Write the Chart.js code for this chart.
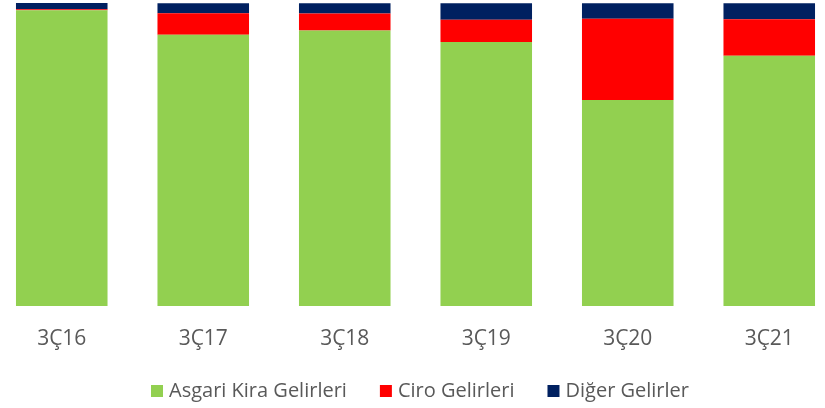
<!DOCTYPE html>
<html>
<head>
<meta charset="utf-8">
<script src="https://cdn.jsdelivr.net/npm/chart.js@4.4.0/dist/chart.umd.min.js"></script>
<style>
html,body{margin:0;padding:0;background:#fff;overflow:hidden;width:825px;height:408px;}
#wrap{position:absolute;left:-13px;top:0;width:866px;height:408px;}
</style>
</head>
<body>
<div id="wrap"><canvas id="c"></canvas></div>
<script>
const categories = ["3Ç16","3Ç17","3Ç18","3Ç19","3Ç20","3Ç21"];
const asgariKira = [97.6, 89.5, 90.9, 87.1, 68.0, 82.6];
const ciro = [0.3, 7.1, 5.6, 7.4, 26.8, 12.0];
const diger = [2.1, 3.3, 3.4, 5.4, 5.1, 5.3];
const seriesNames = ["Asgari Kira Gelirleri","Ciro Gelirleri","Diğer Gelirler"];

const font = "'Open Sans', 'Noto Sans', sans-serif";
new Chart(document.getElementById('c'), {
  type: 'bar',
  data: {
    labels: categories,
    datasets: [
      {label: seriesNames[0], data: asgariKira, backgroundColor: '#92D050'},
      {label: seriesNames[1], data: ciro, backgroundColor: '#FF0000'},
      {label: seriesNames[2], data: diger, backgroundColor: '#002060'}
    ]
  },
  options: {
    responsive: true,
    maintainAspectRatio: false,
    animation: false,
    layout: {padding: {top: 3, right: 0, left: 4, bottom: -3}},
    datasets: {bar: {categoryPercentage: 1, barPercentage: 0.647, borderWidth: 0}},
    scales: {
      x: {
        stacked: true,
        grid: {display: false, drawTicks: false},
        border: {display: false},
        ticks: {color: '#595959', font: {family: font, size: 21}, padding: 20},
        afterFit: (s) => { s.height = 38; s._computeLabelArea = () => undefined; }
      },
      y: {
        stacked: true, display: false, min: 0, max: 100
      },
      yr: {
        position: 'right', display: true,
        grid: {display: false, drawTicks: false},
        border: {display: false},
        ticks: {display: false},
        afterFit: (s) => { s.width = 13; }
      }
    },
    plugins: {
      tooltip: {enabled: false},
      legend: {
        position: 'bottom',
        labels: {
          color: '#595959',
          font: {family: font, size: 20},
          boxWidth: 4, boxHeight: 4,
          padding: 37,
          generateLabels: (chart) => {
            const items = Chart.defaults.plugins.legend.labels.generateLabels(chart);
            items.forEach(it => { it.lineWidth = 8; it.strokeStyle = it.fillStyle; it.lineJoin = 'miter'; });
            return items;
          }
        }
      }
    }
  }
});
</script>
</body>
</html>
